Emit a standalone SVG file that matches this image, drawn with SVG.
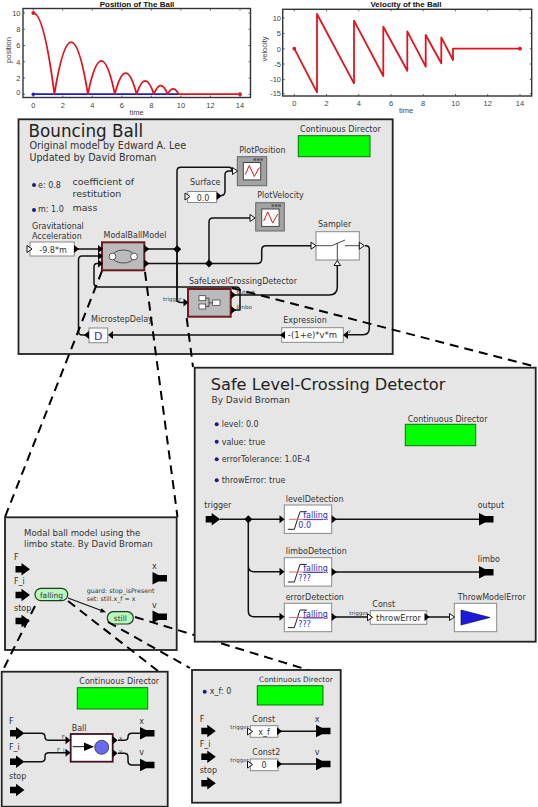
<svg xmlns="http://www.w3.org/2000/svg" width="538" height="807" viewBox="0 0 538 807">
<style>
text{font-family:"DejaVu Sans",sans-serif;fill:#333}
.ax{font-family:"Liberation Sans",sans-serif;font-size:7.5px;fill:#444}
.axm{text-anchor:middle}
.axe{text-anchor:end}
.pt{font-family:"Liberation Sans",sans-serif;font-size:8px;font-weight:bold;fill:#111;text-anchor:middle}
.frame{fill:#fff;stroke:#333;stroke-width:1.4}
.tick{stroke:#444;stroke-width:.8;fill:none}
.panel{fill:#e6e6e6;stroke:#222;stroke-width:1.8}
.l8{font-size:8px}
.l85{font-size:8.5px}
.t7{font-size:5.5px;fill:#444}
.ctr{text-anchor:middle}
.dir{fill:#00ff00;stroke:#0c6e0c;stroke-width:1}
.w{fill:none;stroke:#111;stroke-width:1.5;stroke-linejoin:round}
.dash{fill:none;stroke:#000;stroke-width:2;stroke-dasharray:9 6}
.box{fill:#fff;stroke:#888;stroke-width:1}
.gbox{fill:#bbb;stroke:#6e1a1f;stroke-width:2}
.plt{fill:#a3a3a3;stroke:#666;stroke-width:1}
.k{fill:#000}
.h{fill:#fff;stroke:#111;stroke-width:1}
.dot{fill:#1b1b8a}
.red{fill:none;stroke:#e0141e;stroke-width:1.8;stroke-linejoin:round}
.st{fill:#b9f7bd;stroke:#1d3d1d;stroke-width:1.2}
.fall{font-size:8px;fill:#2a2ad0;text-decoration:underline}
.val{font-size:8px;fill:#2a2ad0}
.rl{stroke:#d46a6a;stroke-width:1;fill:none}
.ramp{stroke:#222;stroke-width:1;fill:none}
</style>
<defs>
<polygon id="in" class="k" points="0,-4 5,0 0,4"/>
<polygon id="inl" class="k" points="0,0 5,-4 5,4"/>
<polygon id="hol" class="h" points="0,-3.5 5,0 0,3.5"/>
<polygon id="pin" class="k" points="0,-3.3 6,-3.3 6,-6.3 14.5,0 6,6.3 6,3.3 0,3.3"/>
<polygon id="pout" class="k" points="0,-6.3 6,-3.3 14.5,-3.3 14.5,3.3 6,3.3 0,6.3"/>
<polygon id="dia" class="k" points="-4,0 0,-4 4,0 0,4"/>
<g id="det">
<rect class="box" x="0" y="0" width="47.4" height="28.4"/>
<path class="ramp" d="M3.5 24.3H10L15.7 6.7H22.4"/>
<path class="rl" d="M4.7 14.3H40.7"/>
<text class="fall" x="19" y="13.3">falling</text>
</g>
<g id="pic"><rect class="h" x="0" y="0" width="17.4" height="17.4" style="stroke:#444"/><path d="M2 12L6 3L11 14L16 5" fill="none" stroke="#e0141e" stroke-width="1"/></g>
<g id="dots"><rect x="0" y="0" width="2.6" height="2.2" fill="#555"/><rect x="3.4" y="0" width="2.6" height="2.2" fill="#555"/><rect x="6.8" y="0" width="2.6" height="2.2" fill="#555"/></g>
</defs>

<g id="position-plot">
<text class="pt" x="137" y="7">Position of The Ball</text>
<rect class="frame" x="23" y="8.5" width="227.5" height="89"/>
<path class="tick" d="M33.3 8.5v2M62.8 8.5v2M92.3 8.5v2M121.9 8.5v2M151.4 8.5v2M180.9 8.5v2M210.4 8.5v2M240 8.5v2M33.3 97.5v-2M62.8 97.5v-2M92.3 97.5v-2M121.9 97.5v-2M151.4 97.5v-2M180.9 97.5v-2M210.4 97.5v-2M240 97.5v-2M23 13h2M23 29.3h2M23 45.5h2M23 61.8h2M23 78h2M23 94.3h2M250.5 13h-2M250.5 29.3h-2M250.5 45.5h-2M250.5 61.8h-2M250.5 78h-2M250.5 94.3h-2"/>
<text class="ax axe" x="20.5" y="16">10</text><text class="ax axe" x="20.5" y="32">8</text><text class="ax axe" x="20.5" y="48">6</text><text class="ax axe" x="20.5" y="64.5">4</text><text class="ax axe" x="20.5" y="80.7">2</text><text class="ax axe" x="20.5" y="94.5">0</text>
<text class="ax axm" x="33.3" y="107.5">0</text><text class="ax axm" x="62.8" y="107.5">2</text><text class="ax axm" x="92.3" y="107.5">4</text><text class="ax axm" x="121.9" y="107.5">6</text><text class="ax axm" x="151.4" y="107.5">8</text><text class="ax axm" x="180.9" y="107.5">10</text><text class="ax axm" x="210.4" y="107.5">12</text><text class="ax axm" x="240" y="107.5">14</text>
<text class="ax axm" x="136.7" y="114.5">time</text>
<text class="ax axm" transform="translate(10.5 50) rotate(-90)">position</text>
<path d="M33.3 94.2H179" fill="none" stroke="#1a1ad0" stroke-width="1.8"/>
<circle cx="33.3" cy="94.2" r="1.8" fill="#1a1ad0"/>
<path class="red" d="M33.3 13Q43.9 13 54.4 94.2Q71.1 -9.8 87.9 94.2Q101.3 27.6 114.8 94.2Q125.7 52 136.6 94.2Q145.2 67.5 153.9 94.2Q160.7 77.2 167.6 94.2Q173.2 83.7 178.7 94.2H240"/>
<circle cx="33.3" cy="13" r="1.9" fill="#e0141e"/><circle cx="240" cy="94.2" r="1.9" fill="#e0141e"/>
</g>

<g id="velocity-plot">
<text class="pt" x="406" y="7">Velocity of the Ball</text>
<rect class="frame" x="282.7" y="9.3" width="249" height="86.7"/>
<path class="tick" d="M294.3 9.3v2M326.5 9.3v2M358.8 9.3v2M391 9.3v2M423.2 9.3v2M455.5 9.3v2M487.7 9.3v2M520 9.3v2M294.3 96v-2M326.5 96v-2M358.8 96v-2M391 96v-2M423.2 96v-2M455.5 96v-2M487.7 96v-2M520 96v-2M282.7 18h2M282.7 33.4h2M282.7 48.7h2M282.7 64h2M282.7 79.4h2M282.7 93.7h2M531.7 18h-2M531.7 33.4h-2M531.7 48.7h-2M531.7 64h-2M531.7 79.4h-2M531.7 93.7h-2"/>
<text class="ax axe" x="281" y="21">10</text><text class="ax axe" x="281" y="36">5</text><text class="ax axe" x="281" y="51.5">0</text><text class="ax axe" x="281" y="67">-5</text><text class="ax axe" x="281" y="82">-10</text><text class="ax axe" x="281" y="96">-15</text>
<text class="ax axm" x="294.3" y="106">0</text><text class="ax axm" x="326.5" y="106">2</text><text class="ax axm" x="358.8" y="106">4</text><text class="ax axm" x="391" y="106">6</text><text class="ax axm" x="423.2" y="106">8</text><text class="ax axm" x="455.5" y="106">10</text><text class="ax axm" x="487.7" y="106">12</text><text class="ax axm" x="520" y="106">14</text>
<text class="ax axm" x="406" y="113">time</text>
<text class="ax axm" transform="translate(267 49) rotate(-90)">velocity</text>
<path class="red" d="M294.3 48.7L317 92.3V14L354 83.3V20.7L383.3 76V26.7L407.3 70.7V31.3L425.7 66.7V35L441.3 63.3V37.3L453 60V48.7H520"/>
<circle cx="294.3" cy="48.7" r="1.9" fill="#e0141e"/><circle cx="520" cy="48.7" r="1.9" fill="#e0141e"/>
</g>

<g id="bouncing-ball-panel">
<rect class="panel" x="18.5" y="119.3" width="374.2" height="234.7"/>
<text x="28.5" y="137" font-size="16.8" style="fill:#222">Bouncing Ball</text>
<text x="29.5" y="149" font-size="9.6">Original model by Edward A. Lee</text>
<text x="29.5" y="161" font-size="9.6">Updated by David Broman</text>
<circle class="dot" cx="34" cy="185" r="2"/><text x="38" y="187.5" class="l8">e: 0.8</text>
<text x="72.5" y="184.5" font-size="9.5">coefficient of</text><text x="72.5" y="197" font-size="9.5">restitution</text>
<circle class="dot" cx="34" cy="210" r="2"/><text x="38" y="212" class="l8">m: 1.0</text>
<text x="72.5" y="211" font-size="9.5">mass</text>
<text x="300" y="131.7" font-size="8.1">Continuous Director</text>
<rect class="dir" x="298.3" y="135.7" width="71.7" height="21"/>
</g>

<g id="main-connectors">
<path class="w" d="M78 249H100"/>
<path class="w" d="M148 249H177M177 302V171Q177 167.3 181 167.3H229Q232 167.3 232 171H234"/>
<path class="w" d="M177 249V299Q177 302.5 181 302.5H184"/>
<path class="w" d="M221 195.5Q225 195.5 225 191V175Q225 171 229 171H234"/>
<path class="w" d="M148 263.5H257Q261.7 263.5 261.7 259V250Q261.7 245.7 266 245.7H311"/>
<path class="w" d="M209 263.5V222Q209 218 213 218H250"/>
<path class="w" d="M235 295H329Q337.3 295 337.3 287V265"/>
<path class="w" d="M235 310H240V291Q240 287 236 287H98Q94 287 94 283V267Q94 263.5 97 263.5H100"/>
<path class="w" d="M100 256H82Q78.5 256 78.5 260V331Q78.5 335 82 335H88"/>
<path class="w" d="M112 335H281"/>
<path class="w" d="M365 245.7H366Q369.3 245.7 369.3 249V328Q369.3 334.7 363 334.7H348"/>
<use href="#dia" x="177.2" y="249.3"/><use href="#dia" x="209" y="263.5"/>
</g>

<g id="GravitationalAcceleration">
<text x="32" y="229" class="l8">Gravitational</text><text x="32" y="239" class="l8">Acceleration</text>
<rect class="box" x="30" y="242" width="44.3" height="14"/>
<text x="53" y="252.5" class="l8 ctr">-9.8*m</text>
<use href="#hol" x="27" y="249"/><use href="#in" x="74" y="249"/>
</g>
<g id="ModalBallModel">
<text x="103.5" y="238" class="l8">ModalBallModel</text>
<rect class="gbox" x="102" y="242.3" width="42.3" height="28"/>
<ellipse cx="123.3" cy="256.5" rx="11" ry="6.5" fill="none" stroke="#333" stroke-width=".8"/>
<circle cx="112.5" cy="256.5" r="3.4" fill="#fff" stroke="#333" stroke-width=".8"/><circle cx="134" cy="256.5" r="3.4" fill="#fff" stroke="#333" stroke-width=".8"/>
<use href="#in" x="98" y="249"/><use href="#in" x="98" y="256"/><use href="#in" x="98" y="263.5"/>
<use href="#in" x="144.3" y="249"/><use href="#in" x="144.3" y="263.5"/>
</g>
<g id="Surface">
<text x="190" y="185" class="l8">Surface</text>
<rect class="box" x="187.7" y="191.5" width="29" height="11"/>
<text x="203" y="200.5" class="l8 ctr">0.0</text>
<use href="#hol" x="185" y="196.5"/><use href="#in" x="216.7" y="196"/>
</g>
<g id="PlotPosition">
<text x="239.3" y="153" class="l8">PlotPosition</text>
<rect class="plt" x="237.3" y="156.7" width="29.4" height="29"/>
<use href="#dots" x="253.5" y="158.5"/>
<use href="#pic" x="243.3" y="162.5"/>
<use href="#hol" x="232.5" y="171"/>
</g>
<g id="PlotVelocity">
<text x="257.3" y="198.3" class="l8">PlotVelocity</text>
<rect class="plt" x="255.7" y="202.7" width="28.6" height="28.3"/>
<use href="#dots" x="271.5" y="204.5"/>
<use href="#pic" x="261.7" y="209"/>
<use href="#hol" x="250" y="218"/>
</g>
<g id="Sampler">
<text x="318" y="226.7" class="l8">Sampler</text>
<rect class="box" x="316" y="231.7" width="43.3" height="28.3"/>
<path d="M316 245.7H331.7L345 240M345 245.7H359.3M337.3 243V260" fill="none" stroke="#333" stroke-width=".9"/>
<use href="#hol" x="311" y="245.7"/><use href="#hol" x="359.3" y="245.7"/>
<polygon class="h" points="337.3,260.5 334,265.5 340.6,265.5"/>
</g>
<g id="SafeLevelCrossingDetector">
<text x="189" y="284.3" class="l8">SafeLevelCrossingDetector</text>
<rect class="gbox" x="188" y="289" width="42.7" height="27.7"/>
<path d="M205.7 298.2H209V306.5H205.7M209 302.8H212.7" fill="none" stroke="#333" stroke-width=".8"/>
<rect x="199" y="295.7" width="6.7" height="5" fill="#fff" stroke="#333" stroke-width=".7"/>
<rect x="199" y="304" width="6.7" height="5" fill="#fff" stroke="#333" stroke-width=".7"/>
<rect x="212.7" y="300" width="7.3" height="5.6" fill="#fff" stroke="#333" stroke-width=".7"/>
<use href="#in" x="183.5" y="302.5"/><use href="#in" x="231" y="295"/><use href="#in" x="231" y="310"/>
<text x="163" y="301" class="t7">trigger</text><text x="236.5" y="294" class="t7">output</text><text x="236.5" y="309" class="t7">limbo</text>
</g>
<g id="MicrostepDelay">
<text x="91" y="322" class="l8">MicrostepDelay</text>
<rect class="box" x="89" y="328" width="18.7" height="14.7"/>
<text x="98.3" y="339.5" font-size="11" text-anchor="middle" style="fill:#3a2ad0">D</text>
<use href="#inl" x="84" y="335"/><use href="#inl" x="108" y="335"/>
</g>
<g id="Expression">
<text x="283.3" y="323.3" class="l8">Expression</text>
<rect class="box" x="281.7" y="327.7" width="61.6" height="14.6"/>
<text x="312.5" y="338.3" class="l85 ctr">-(1+e)*v*m</text>
<use href="#inl" x="280" y="335"/><use href="#inl" x="343" y="335"/>
<text x="347.5" y="333" class="t7">v</text>
</g>

<g id="modal-panel">
<rect class="panel" x="5" y="517.3" width="171.7" height="132.7"/>
<text x="24" y="536" font-size="8.6">Modal ball model using the</text>
<text x="24" y="546.7" font-size="8.6">limbo state. By David Broman</text>
<text x="14" y="560" class="l8">F</text><use href="#pin" x="15.5" y="569.3"/>
<text x="14" y="584" class="l8">F_i</text><use href="#pin" x="15.5" y="595"/>
<text x="14" y="610.7" class="l8">stop</text><use href="#pin" x="15.5" y="621"/>
<text x="152" y="569.3" class="l8">x</text><use href="#pout" x="152.5" y="578.3"/>
<text x="152" y="608" class="l8">v</text><use href="#pout" x="152.5" y="616.7"/>
<text x="86.7" y="592.7" font-size="6.3">guard: stop_isPresent</text>
<text x="86.7" y="600.7" font-size="6.3">set: still.x_f = x</text>
</g>
<g id="modal-connectors">
<path d="M68 598L102 610.8" fill="none" stroke="#111" stroke-width="1.2"/>
<polygon class="k" points="106,612.3 100,612.4 101.5,608.2"/>
</g>
<g id="state-falling"><rect class="st" x="35" y="588.3" width="32.7" height="12.4" rx="6"/><text x="51.4" y="597.5" font-size="7.5" text-anchor="middle">falling</text></g>
<g id="state-still"><rect class="st" x="107.3" y="611.7" width="26" height="12.3" rx="6"/><text x="120.3" y="620.7" font-size="7.5" text-anchor="middle">still</text></g>

<g id="zoom-lines">
<path class="dash" d="M102 271L5 517"/>
<path class="dash" d="M145 272L177.5 517"/>
<path class="dash" d="M186.7 318L193 367"/>
<path class="dash" d="M232 288L537 367"/>
<path class="dash" d="M35 606L2 672"/>
<path class="dash" d="M68 601L158 671"/>
<path class="dash" d="M108 622L190 668"/>
<path class="dash" d="M135 617L310 670.5"/>
</g>

<g id="detector-panel">
<rect class="panel" x="194.7" y="367.7" width="341" height="274"/>
<text x="210.7" y="390" font-size="16.2" style="fill:#222">Safe Level-Crossing Detector</text>
<text x="211.5" y="403" font-size="9">By David Broman</text>
<circle class="dot" cx="216.7" cy="424.3" r="2"/><text x="221.7" y="427" class="l8">level: 0.0</text>
<circle class="dot" cx="216.7" cy="441.7" r="2"/><text x="221.7" y="444.5" class="l8">value: true</text>
<circle class="dot" cx="216.7" cy="459.3" r="2"/><text x="221.7" y="462" class="l8">errorTolerance: 1.0E-4</text>
<circle class="dot" cx="216.7" cy="480.3" r="2"/><text x="221.7" y="483" class="l8">throwError: true</text>
<text x="407.7" y="421.7" class="l8">Continuous Director</text>
<rect class="dir" x="405.3" y="424.3" width="70.4" height="21.4"/>
<text x="204.3" y="508.3" class="l8">trigger</text>
<text x="477.7" y="508.3" class="l8">output</text>
<text x="477.7" y="562.3" class="l8">limbo</text>
</g>
<g id="detector-connectors">
<path class="w" d="M220 519.3H280M248.3 519.3V566Q248.3 571.7 254 571.7H280M248.3 560V611Q248.3 616.7 254 616.7H280"/>
<path class="w" d="M335 519.3H479M335 572H479M335 617H367M428 617H449"/>
<use href="#dia" x="248.3" y="519.3"/>
</g>
<g id="det-trigger"><use href="#pin" x="205.7" y="519.3"/></g>
<g id="det-output"><use href="#pout" x="479" y="519.3"/></g>
<g id="det-limbo"><use href="#pout" x="479" y="572.3"/></g>
<g id="levelDetection">
<text x="285.7" y="502.3" class="l8">levelDetection</text>
<use href="#det" x="284.3" y="505"/>
<text class="val" x="298.3" y="528.3">0.0</text>
<use href="#in" x="279.5" y="519.3"/><use href="#in" x="331.7" y="519.3"/>
</g>
<g id="limboDetection">
<text x="285.7" y="554.3" class="l8">limboDetection</text>
<use href="#det" x="284.3" y="557.7"/>
<text class="val" x="298.3" y="581">???</text>
<use href="#in" x="279.5" y="571.7"/><use href="#in" x="331.7" y="572"/>
</g>
<g id="errorDetection">
<text x="285.7" y="600" class="l8">errorDetection</text>
<use href="#det" x="284.3" y="603.3"/>
<text class="val" x="298.3" y="626.6">???</text>
<use href="#in" x="279.5" y="616.7"/><use href="#in" x="331.7" y="617"/>
</g>
<g id="Const-throwError">
<text x="372.3" y="607.3" class="l8">Const</text>
<rect class="box" x="370.3" y="610.7" width="56.4" height="13.6"/>
<text x="398.5" y="620.7" class="l85 ctr">throwError</text>
<use href="#hol" x="367.5" y="617.3"/><use href="#in" x="424.5" y="617"/>
<text x="349.3" y="615" class="t7">trigger</text>
</g>
<g id="ThrowModelError">
<text x="457.7" y="600" class="l8">ThrowModelError</text>
<rect class="box" x="454.3" y="603.3" width="42.4" height="28.4"/>
<polygon points="461,610 461,625 490,617.5" fill="#1a1ad8" stroke="#10106a" stroke-width=".7"/>
<use href="#hol" x="449.5" y="617"/>
</g>

<g id="falling-panel">
<rect class="panel" x="1.7" y="671.7" width="166" height="135"/>
<text x="79.3" y="684.3" class="l8">Continuous Director</text>
<rect class="dir" x="77.3" y="687.7" width="70.4" height="21.3"/>
<text x="9" y="724" class="l8">F</text><use href="#pin" x="10" y="733.3"/>
<text x="9" y="750" class="l8">F_i</text><use href="#pin" x="10" y="761.7"/>
<text x="9" y="779" class="l8">stop</text><use href="#pin" x="10" y="790"/>
<text x="139.3" y="724.3" class="l8">x</text><use href="#pout" x="140" y="733.3"/>
<text x="139.3" y="755" class="l8">v</text><use href="#pout" x="140" y="765"/>
<path class="w" d="M24 733.3H41Q45 733.3 45 737V737Q45 740.3 49 740.3H66M24 761.7H41Q45 761.7 45 758V756Q45 752.7 49 752.7H66M118 740.3H124Q128 740.3 128 737Q128 733.3 132 733.3H140M118 753.3H124Q128 753.3 128 757V761Q128 765 132 765H140"/>
</g>
<g id="Ball">
<text x="71.7" y="730.7" class="l8">Ball</text>
<rect x="70.7" y="734" width="42" height="27.7" fill="#fff" stroke="#3e1322" stroke-width="1.8"/>
<path d="M72.7 746.7H90" fill="none" stroke="#111" stroke-width="1"/>
<polygon class="k" points="84,742.5 94,746.7 84,751"/>
<circle cx="101.7" cy="747.3" r="7" fill="#6a6af0" stroke="#333" stroke-width=".8"/>
<use href="#in" x="65.5" y="740.3"/><use href="#in" x="65.5" y="752.7"/><use href="#in" x="112.7" y="740.3"/><use href="#in" x="112.7" y="753.3"/>
<text x="61.7" y="739" class="t7">F</text><text x="57" y="752" class="t7">F_i</text><text x="119" y="739.5" class="t7">x</text><text x="119" y="753" class="t7">v</text>
</g>

<g id="still-panel">
<rect class="panel" x="192" y="670" width="148.7" height="132.7"/>
<circle class="dot" cx="204.7" cy="691.7" r="2"/><text x="209.7" y="693.7" class="l8">x_f: 0</text>
<text x="259" y="682.3" font-size="7.4">Continuous Director</text>
<rect class="dir" x="257.3" y="685.7" width="65.7" height="19.3"/>
<text x="199.7" y="721.7" class="l8">F</text><use href="#pin" x="201.3" y="731"/>
<text x="199.7" y="747.3" class="l8">F_i</text><use href="#pin" x="201.3" y="756.7"/>
<text x="199.7" y="773.3" class="l8">stop</text><use href="#pin" x="201.3" y="783.3"/>
<text x="314.7" y="722.3" class="l8">x</text><use href="#pout" x="316" y="731"/>
<text x="314.7" y="755" class="l8">v</text><use href="#pout" x="316" y="764"/>
<path class="w" d="M281 731.3H316M281 764H316"/>
</g>
<g id="Const-x_f">
<text x="252.3" y="721.7" class="l8">Const</text>
<rect class="box" x="250.3" y="725.7" width="27.7" height="11.6"/>
<text x="264" y="734.8" class="l8 ctr">x_f</text>
<use href="#hol" x="247.5" y="731.5"/><use href="#in" x="277" y="731.3"/>
<text x="230.3" y="729" class="t7">trigger</text>
</g>
<g id="Const2">
<text x="252.3" y="755" class="l8">Const2</text>
<rect class="box" x="250.3" y="759" width="27.7" height="11.7"/>
<text x="264" y="768" class="l8 ctr">0</text>
<use href="#hol" x="247.5" y="764.5"/><use href="#in" x="277" y="764"/>
<text x="230.3" y="762" class="t7">trigger</text>
</g>
</svg>
